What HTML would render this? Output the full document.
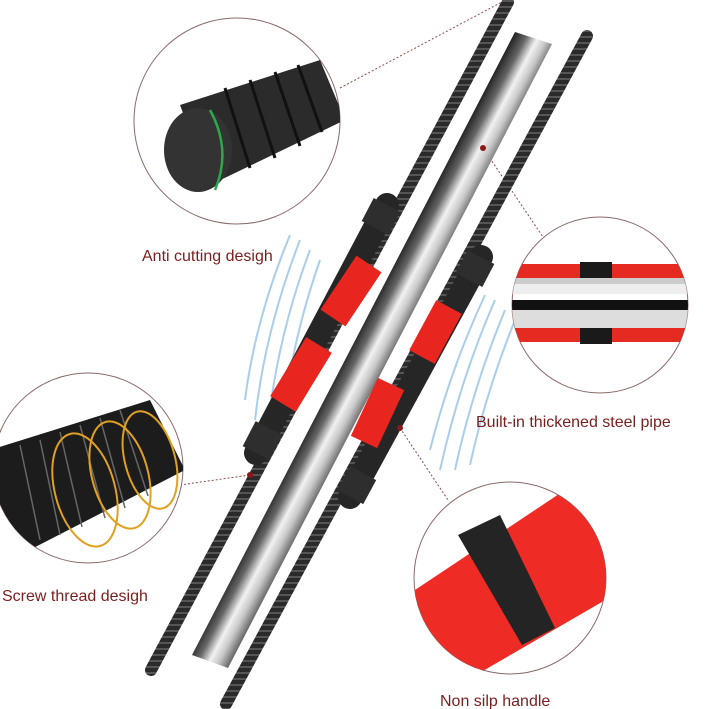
<!DOCTYPE html>
<html><head><style>
html,body{margin:0;padding:0;background:#fff;}
svg{display:block}
text{font-family:"Liberation Sans","DejaVu Sans",sans-serif;fill:#7a1e1e;font-size:16px}
</style></head><body>
<svg width="708" height="709" viewBox="0 0 708 709">
<defs>
<linearGradient id="pipe" gradientUnits="userSpaceOnUse" x1="352" y1="340" x2="390" y2="360">
<stop offset="0" stop-color="#1e1e1e"/><stop offset="0.3" stop-color="#666"/><stop offset="0.55" stop-color="#f2f2f2"/><stop offset="0.75" stop-color="#c8c8c8"/><stop offset="1" stop-color="#666"/>
</linearGradient>
<pattern id="thread" width="6" height="6" patternUnits="userSpaceOnUse"><rect width="6" height="6" fill="#2a2a2a"/><rect width="6" height="2" fill="#555"/></pattern>
<clipPath id="c1"><circle cx="237" cy="121" r="103"/></clipPath>
<clipPath id="c2"><circle cx="600" cy="305" r="88"/></clipPath>
<clipPath id="c3"><circle cx="88" cy="468" r="95"/></clipPath>
<clipPath id="c4"><circle cx="510" cy="578" r="96"/></clipPath>
</defs>
<g stroke="#9cc6e6" stroke-width="2" fill="none" opacity="0.85">
<path d="M300 240 Q265 330 255 420"/><path d="M310 250 Q278 335 268 425"/><path d="M320 260 Q292 340 283 420"/><path d="M290 235 Q255 320 245 400"/>
<path d="M495 300 Q460 380 440 470"/><path d="M505 310 Q472 390 455 470"/><path d="M515 320 Q485 395 470 465"/><path d="M485 295 Q450 370 430 450"/>
</g>
<g stroke="#8a4a4a" stroke-width="1" stroke-dasharray="2,2" fill="none">
<line x1="340" y1="88" x2="502" y2="2"/>
<line x1="483" y1="148" x2="545" y2="240"/>
<line x1="180" y1="485" x2="250" y2="475"/>
<line x1="400" y1="428" x2="448" y2="500"/>
</g>
<line x1="508" y1="2" x2="151" y2="670" stroke="url(#thread)" stroke-width="12" stroke-linecap="round"/>
<polygon points="515,32 552,44 228,668 192,655" fill="url(#pipe)"/>
<line x1="587" y1="36" x2="226" y2="704" stroke="url(#thread)" stroke-width="12" stroke-linecap="round"/>
<g transform="translate(3,2)">
<line x1="384" y1="203" x2="253" y2="451" stroke="#262626" stroke-width="24" stroke-linecap="round"/>
<line x1="384" y1="203" x2="372" y2="226" stroke="#2e2e2e" stroke-width="30"/>
<line x1="266" y1="426" x2="253" y2="451" stroke="#2e2e2e" stroke-width="30"/>
<line x1="366" y1="262" x2="330" y2="316" stroke="#e8261f" stroke-width="30"/>
<line x1="316" y1="343" x2="280" y2="402" stroke="#e8261f" stroke-width="30"/>
</g>
<g transform="translate(-2,0)">
<line x1="483" y1="257" x2="352" y2="497" stroke="#262626" stroke-width="24" stroke-linecap="round"/>
<line x1="483" y1="257" x2="471" y2="280" stroke="#2e2e2e" stroke-width="30"/>
<line x1="365" y1="473" x2="352" y2="497" stroke="#2e2e2e" stroke-width="30"/>
<line x1="451" y1="307" x2="424" y2="357" stroke="#e8261f" stroke-width="29"/>
<line x1="393" y1="384" x2="366" y2="442" stroke="#e8261f" stroke-width="29"/>
</g>
<circle cx="483" cy="148" r="3" fill="#8a1a1a"/><circle cx="400" cy="428" r="3" fill="#8a1a1a"/><circle cx="250" cy="475" r="3" fill="#8a1a1a"/>
<circle cx="237" cy="121" r="103" fill="#fff" stroke="#8a6a6a" stroke-width="1"/>
<g clip-path="url(#c1)">
<polygon points="180,105 320,60 345,120 210,185" fill="#2b2b2b"/>
<g stroke="#111" stroke-width="3"><line x1="225" y1="88" x2="250" y2="168"/><line x1="250" y1="80" x2="275" y2="158"/><line x1="275" y1="72" x2="300" y2="146"/><line x1="298" y1="65" x2="322" y2="132"/></g>
<ellipse cx="198" cy="150" rx="34" ry="42" fill="#333"/>
<path d="M210 110 Q232 150 215 190" stroke="#2ea84a" stroke-width="2.5" fill="none"/>
</g>
<circle cx="600" cy="305" r="88" fill="#fff" stroke="#8a6a6a"/>
<g clip-path="url(#c2)">
<rect x="510" y="264" width="180" height="14" fill="#e52a22"/>
<rect x="510" y="278" width="180" height="6" fill="#ccc"/>
<rect x="510" y="284" width="180" height="10" fill="#eee"/>
<rect x="510" y="300" width="180" height="10" fill="#111"/>
<rect x="510" y="310" width="180" height="18" fill="#ddd"/>
<rect x="510" y="328" width="180" height="14" fill="#e52a22"/>
<rect x="580" y="262" width="32" height="16" fill="#1a1a1a"/><rect x="580" y="328" width="32" height="16" fill="#1a1a1a"/>
</g>
<circle cx="88" cy="468" r="95" fill="#fff" stroke="#8a6a6a"/>
<g clip-path="url(#c3)">
<polygon points="-10,450 150,400 185,470 10,560" fill="#1c1c1c"/>
<g stroke="#666" stroke-width="1.5" fill="none"><path d="M20 445 L40 540"/><path d="M40 440 L60 535"/><path d="M60 432 L82 527"/><path d="M80 425 L105 518"/><path d="M100 418 L125 508"/><path d="M120 410 L148 496"/></g>
<g stroke="#e0a020" stroke-width="2" fill="none"><ellipse cx="85" cy="490" rx="30" ry="58" transform="rotate(-15 85 490)"/><ellipse cx="120" cy="475" rx="28" ry="55" transform="rotate(-15 120 475)"/><ellipse cx="150" cy="460" rx="25" ry="50" transform="rotate(-15 150 460)"/></g>
</g>
<circle cx="510" cy="578" r="96" fill="#fff" stroke="#8a6a6a"/>
<g clip-path="url(#c4)">
<polygon points="400,600 580,480 640,580 450,690" fill="#ee2b25"/>
<polygon points="458,535 500,515 555,628 522,645" fill="#242424"/>
</g>
<text x="142" y="261">Anti cutting desigh</text>
<text x="476" y="427">Built-in thickened steel pipe</text>
<text x="2" y="601">Screw thread desigh</text>
<text x="440" y="706">Non silp handle</text>
</svg>
</body></html>
